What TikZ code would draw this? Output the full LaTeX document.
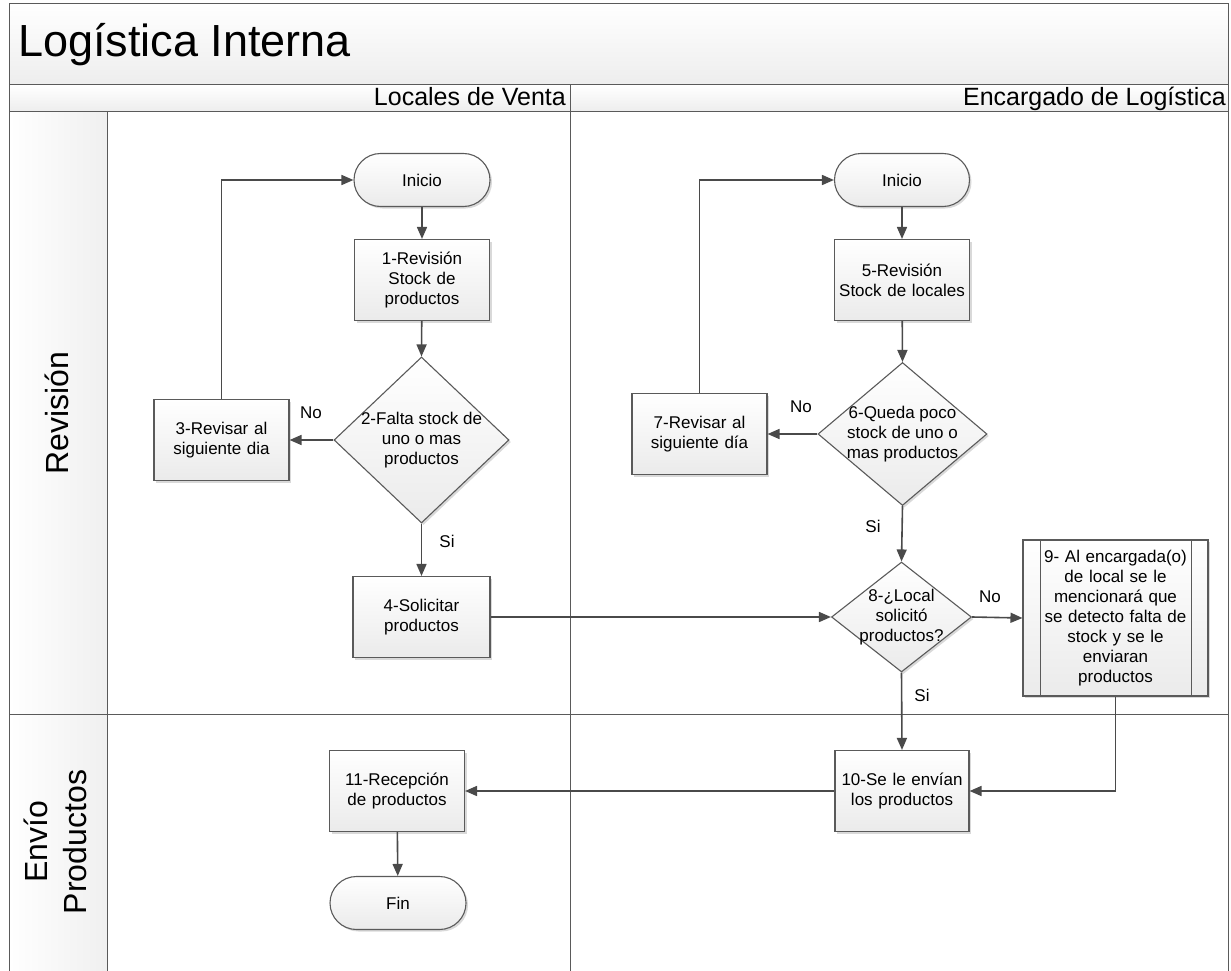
\documentclass[tikz,border=0pt]{standalone}
\usepackage{fontspec}
\setmainfont{Liberation Sans}
\usetikzlibrary{shapes.geometric,shapes.misc,arrows.meta,shadows}
\definecolor{edgegrey}{HTML}{4A4A4A}
\definecolor{framegrey}{HTML}{5A5A5A}
\newcommand\flowfont{\fontsize{17}{20}\selectfont}
\begin{document}
\begin{tikzpicture}[x=1pt,y=-1pt,
  shade3d/.style={top color=white,bottom color=black!8},
  boxshadow/.style={drop shadow={shadow xshift=2pt,shadow yshift=-2pt,fill=black,opacity=0.15}},
  proc/.style={draw=framegrey,line width=1.1pt,shade3d,boxshadow,rectangle,
    minimum width=135pt,minimum height=81pt,text width=132pt,align=center,
    inner sep=0pt,font=\flowfont},
  predef/.style={proc,path picture={
    \draw[framegrey,line width=1pt]
      ([xshift=17pt]path picture bounding box.north west) -- ([xshift=17pt]path picture bounding box.south west)
      ([xshift=-17pt]path picture bounding box.north east) -- ([xshift=-17pt]path picture bounding box.south east);}},
  term/.style={draw=framegrey,line width=1.1pt,shade3d,boxshadow,rounded rectangle,
    minimum width=136pt,minimum height=53pt,inner sep=0pt,font=\flowfont},
  decision/.style={draw=framegrey,line width=1.1pt,shade3d,boxshadow,diamond,inner sep=0pt},
  dectext/.style={align=center,font=\flowfont,inner sep=0pt},
  flow/.style={draw=edgegrey,line width=1.6pt,-{Triangle[length=12pt,width=10pt]}},
  lbl/.style={font=\flowfont,inner sep=0pt},
  lane/.style={draw=framegrey,line width=1pt},
]
\useasboundingbox (0,0) rectangle (1231,971);

% pool background bands
\shade[top color=white,bottom color=black!7] (9,4) rectangle (1228,85);
\shade[top color=white,bottom color=black!7] (9,85) rectangle (1228,112);
\shade[left color=white,right color=black!6] (9,112) rectangle (107,971);

% pool and lane borders
\draw[lane] (9,971) -- (9,4) -- (1228,4) -- (1228,971);
\draw[lane] (9,85) -- (1228,85);
\draw[lane] (9,112) -- (1228,112);
\draw[lane] (107,112) -- (107,971);
\draw[lane] (570,85) -- (570,971);
\draw[lane] (9,714) -- (1228,714);

% titles
\node[anchor=base west,inner sep=0pt,font=\fontsize{45}{54}\selectfont] (title) at (18,57) {Logística Interna};
\node[anchor=base east,inner sep=0pt,font=\fontsize{25}{30}\selectfont] (laneA) at (566,106) {Locales de Venta};
\node[anchor=base east,inner sep=0pt,font=\fontsize{25}{30}\selectfont] (laneB) at (1226,106) {Encargado de Logística};
\node[rotate=90,inner sep=0pt,font=\fontsize{32}{38}\selectfont] (phaseA) at (57,413) {Revisión};
\node[rotate=90,inner sep=0pt,align=center,font=\fontsize{32}{39}\selectfont] (phaseB) at (55,842) {Envío\\Productos};

% Locales de Venta
\node[term] (iniA) at (422,180) {Inicio};
\node[proc] (s1) at (422,280) {1-Revisión\\Stock de\\productos};
\node[decision,minimum width=175pt,minimum height=166pt] (d2) at (421.5,440) {};
\node[dectext] (d2t) at (d2.center) {2-Falta stock de\\uno o mas\\productos};
\node[proc] (s3) at (221.5,440) {3-Revisar al\\siguiente dia};
\node[proc,minimum width=137pt] (s4) at (421.5,617) {4-Solicitar\\productos};
\node[proc] (s11) at (397,791) {11-Recepción\\de productos};
\node[term] (fin) at (398,903) {Fin};

% Encargado de Logística
\node[term,minimum width=135pt] (iniB) at (902,180) {Inicio};
\node[proc] (s5) at (902,280) {5-Revisión\\Stock de locales};
\node[decision,minimum width=169pt,minimum height=143pt] (d6) at (902.5,434) {};
\node[dectext] (d6t) at (d6.center) {6-Queda poco\\stock de uno o\\mas productos};
\node[proc] (s7) at (699.5,434) {7-Revisar al\\siguiente día};
\node[decision,minimum width=140pt,minimum height=110pt] (d8) at (901.5,617) {};
\node[dectext] (d8t) at (d8.center) {8-¿Local\\solicitó\\productos?};
\node[predef,minimum width=185pt,minimum height=156pt,text width=160pt] (s9) at (1115.5,618)
  {9- Al encargada(o)\\de local se le\\mencionará que\\se detecto falta de\\stock y se le\\enviaran\\productos};
\node[proc,minimum width=134pt] (s10) at (902,791) {10-Se le envían\\los productos};

% connectors
\draw[flow] (iniA) -- (s1);
\draw[flow] (s1) -- (d2.north);
\draw[flow] (d2.west) -- (s3.east);
\draw[flow] (s3.north) |- (iniA.west);
\draw[flow] (d2.south) -- (s4.north);
\draw[flow] (s4.east) -- (d8.west);
\draw[flow] (iniB) -- (s5);
\draw[flow] (s5) -- (d6.north);
\draw[flow] (d6.west) -- (s7.east);
\draw[flow] (s7.north) |- (iniB.west);
\draw[flow] (d6.south) -- (d8.north);
\draw[flow] (d8.east) -- (s9.west);
\draw[flow] (d8.south) -- (s10.north);
\draw[flow] (s9.south) |- (s10.east);
\draw[flow] (s10.west) -- (s11.east);
\draw[flow] (s11) -- (fin);

% branch labels
\node[lbl] (no2) at (311,413) {No};
\node[lbl] (si2) at (447,541) {Si};
\node[lbl] (no6) at (801,407) {No};
\node[lbl] (si6) at (873,526) {Si};
\node[lbl] (no8) at (990,597) {No};
\node[lbl] (si8) at (922,695) {Si};
\end{tikzpicture}
\end{document}
